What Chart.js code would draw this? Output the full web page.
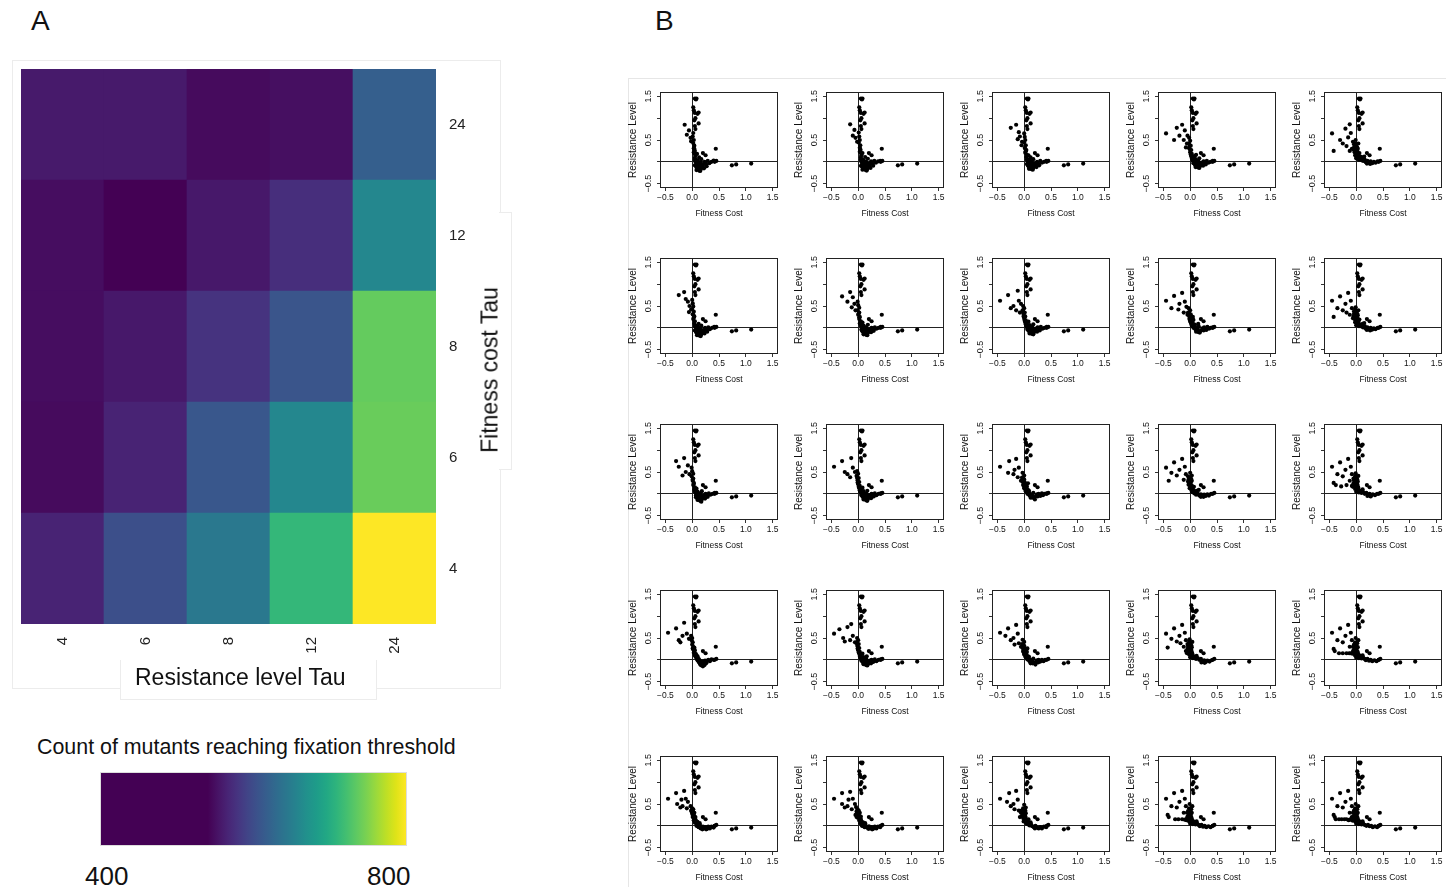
<!DOCTYPE html>
<html>
<head>
<meta charset="utf-8">
<script src="https://cdn.jsdelivr.net/npm/chart.js@4.4.1/dist/chart.umd.min.js"></script>
<style>
  body { margin:0; background:#fff; width:1446px; height:887px; overflow:hidden; position:relative;
         font-family:"Liberation Sans", Arial, sans-serif; color:#111; }
  .abs { position:absolute; }
  .panel-letter { font-size:28px; line-height:28px; }
  canvas { position:absolute; }
</style>
</head>
<body>

<!-- Panel A -->
<div class="abs panel-letter" style="left:31px;top:7px;">A</div>
<div class="abs" style="left:12px;top:60px;width:487px;height:627px;border:1px solid #ececec;background:#fff;"></div>
<div class="abs" style="left:499px;top:212px;width:12px;height:256px;border:1px solid #ececec;border-left:none;background:#fff;"></div>
<div class="abs" style="left:120px;top:660px;width:255px;height:39px;border:1px solid #ececec;border-top:none;background:#fff;"></div>
<canvas id="heat" width="500" height="623" style="left:0;top:47px;"></canvas>
<div class="abs" style="left:135px;top:664px;font-size:23px;line-height:27px;white-space:nowrap;">Resistance level Tau</div>
<div class="abs" style="left:490px;top:370px;width:0;height:0;">
  <div style="position:absolute;left:0;top:0;transform:translate(-50%,-50%) rotate(-90deg);font-size:23px;line-height:27px;white-space:nowrap;">Fitness cost Tau</div>
</div>

<!-- colour legend -->
<div class="abs" style="left:37px;top:734px;font-size:21.4px;line-height:27px;white-space:nowrap;">Count of mutants reaching fixation threshold</div>
<div id="cbar" class="abs" style="left:100px;top:772px;width:307px;height:74px;border:1px solid #ddd;box-sizing:border-box;"></div>
<div class="abs" style="left:85px;top:861px;font-size:26px;line-height:30px;">400</div>
<div class="abs" style="left:367px;top:861px;font-size:26px;line-height:30px;">800</div>

<!-- Panel B -->
<div class="abs panel-letter" style="left:655px;top:7px;">B</div>
<div class="abs" style="left:628px;top:78px;width:830px;height:820px;border-left:1px solid #e6e6e6;border-top:1px solid #e6e6e6;"></div>
<div id="grid"></div>

<script>
// ---------- Panel A: heatmap ----------
const resistanceTau = ['4', '6', '8', '12', '24'];
const fitnessTau = ['4', '6', '8', '12', '24'];
// counts per fitness-cost Tau row, ordered by resistance Tau
const countsFit4  = [565, 602, 644, 712, 800];
const countsFit6  = [547, 565, 610, 660, 740];
const countsFit8  = [549, 557, 578, 608, 738];
const countsFit12 = [549, 540, 557, 574, 660];
const countsFit24 = [558, 558, 547, 550, 618];
const countRows = [countsFit4, countsFit6, countsFit8, countsFit12, countsFit24];
const colourLow = 540, colourHigh = 800;
const legendLow = 400, legendHigh = 800;

const viridisStops = ['#440154','#471365','#482475','#463480','#414487','#3b528b','#355f8d',
  '#2f6c8e','#2a788e','#25848e','#21918c','#1e9c89','#22a884','#2fb47c','#44bf70','#5ec962',
  '#7ad151','#9bd93c','#bddf26','#dfe318','#fde725'];

function hexToRgb(h) { return [1,3,5].map(i => parseInt(h.slice(i, i + 2), 16)); }
function viridis(t) {
  t = Math.max(0, Math.min(1, t));
  const pos = t * (viridisStops.length - 1);
  const i = Math.min(Math.floor(pos), viridisStops.length - 2);
  const f = pos - i;
  const a = hexToRgb(viridisStops[i]), b = hexToRgb(viridisStops[i + 1]);
  const c = a.map((v, k) => Math.round(v + (b[k] - v) * f));
  return `rgb(${c[0]},${c[1]},${c[2]})`;
}
function countColour(v) { return viridis((v - colourLow) / (colourHigh - colourLow)); }

// legend gradient on the 400–800 range
(function () {
  const parts = [];
  const start = (colourLow - legendLow) / (legendHigh - legendLow) * 100;
  parts.push(`${viridisStops[0]} 0%`);
  viridisStops.forEach((c, i) => {
    parts.push(`${c} ${(start + (100 - start) * i / (viridisStops.length - 1)).toFixed(2)}%`);
  });
  document.getElementById('cbar').style.background = `linear-gradient(to right, ${parts.join(',')})`;
})();

new Chart(document.getElementById('heat'), {
  type: 'bar',
  data: {
    labels: resistanceTau,
    datasets: countRows.map((row, r) => ({
      label: fitnessTau[r],
      data: row.map(() => [r, r + 1]),
      backgroundColor: row.map(countColour),
      borderWidth: 0,
      grouped: false,
      barPercentage: 1,
      categoryPercentage: 1
    }))
  },
  options: {
    responsive: false, animation: false, events: [],
    layout: { padding: { left: 21, top: 9, right: 0, bottom: 0 } },
    plugins: { legend: { display: false }, tooltip: { enabled: false } },
    scales: {
      x: {
        grid: { display: false, drawTicks: false }, border: { display: false },
        ticks: { minRotation: 90, maxRotation: 90, padding: 13, color: '#222',
                 font: { size: 15, family: '"Liberation Sans", Arial' } },
        afterFit: s => { s.height = 46; }
      },
      y: {
        type: 'linear', position: 'right', min: 0, max: 5,
        grid: { display: false, drawTicks: false }, border: { display: false },
        afterBuildTicks: s => { s.ticks = fitnessTau.map((_, i) => ({ value: i + 0.5 })); },
        ticks: { padding: 13, color: '#222', autoSkip: false,
                 font: { size: 15, family: '"Liberation Sans", Arial' },
                 callback: v => fitnessTau[Math.floor(v)] },
        afterFit: s => { s.width = 64; }
      }
    }
  }
});

// ---------- Panel B: fitness cost vs resistance level scatter grid ----------
const axisTicks = [-0.5, 0, 0.5, 1, 1.5];
const yLabelledTicks = [-0.5, 0.5, 1.5];

// points that appear in every run
const sharedPoints = [[0.05,1.45],[0.08,1.45],[0.07,1.43],[0.02,1.25],[0.03,1.18],[0.05,1.12],
  [0.1,1.1],[0.12,1.13],[0.06,1.0],[0.04,0.95],[0.12,0.88],[0.05,0.82],[0.06,0.75],
  [0.44,0.3],[0.2,0.2],[0.25,0.15],[0.74,-0.08],[0.82,-0.06],[1.1,-0.04],[0.45,0.02],[0.42,0.0]];

const run11 = [[-0.14,0.85],[-0.06,0.72],[-0.1,0.62],[-0.03,0.55],[-0.02,0.47],
  [0.02,0.66],[0.01,0.58],[0.03,0.5],[0.02,0.43],[0.04,0.37],[0.03,0.31],[0.05,0.25],[0.04,0.19],[0.06,0.14],[0.05,0.09],[0.07,0.05],[0.06,0.0],[0.08,-0.04],
  [0.05,-0.08],[0.09,-0.12],[0.1,-0.17],[0.13,-0.2],[0.16,-0.17],[0.19,-0.12],[0.12,-0.07],[0.2,-0.05],[0.15,-0.01],[0.23,0.0],[0.26,-0.06],[0.29,0.02],[0.32,-0.03],
  [0.08,-0.19],[0.15,-0.21],[0.22,-0.15],[0.27,-0.1],[0.36,0.0],[0.4,0.03],[0.1,0.03],[0.17,0.06],[0.11,-0.13],[0.18,-0.08],[0.24,-0.02],[0.13,0.1],[0.09,0.18],
  [0.07,-0.1],[0.1,-0.08],[0.13,-0.1],[0.14,-0.14],[0.17,-0.11],[0.09,-0.15],[0.12,-0.17],[0.16,-0.06],[0.08,-0.02],[0.11,0.0],[0.2,-0.09],[0.05,0.04],[0.1,-0.05],[0.14,-0.04],[0.03,0.22],[0.04,0.3]];
const run12 = [[-0.15,0.86],[-0.07,0.73],[-0.1,0.6],[-0.05,0.55],[-0.02,0.46],
  [0.01,0.67],[0.02,0.58],[0.03,0.5],[0.01,0.44],[0.04,0.38],[0.03,0.32],[0.04,0.26],[0.05,0.2],[0.06,0.15],[0.05,0.1],[0.07,0.05],[0.06,0.0],[0.08,-0.05],
  [0.05,-0.09],[0.09,-0.13],[0.11,-0.17],[0.14,-0.19],[0.17,-0.16],[0.2,-0.11],[0.12,-0.06],[0.21,-0.04],[0.15,0.0],[0.24,0.01],[0.27,-0.05],[0.3,0.02],[0.33,-0.02],
  [0.08,-0.18],[0.16,-0.2],[0.23,-0.14],[0.28,-0.09],[0.37,0.01],[0.41,0.02],[0.1,0.04],[0.18,0.07],[0.12,-0.12],[0.19,-0.07],[0.25,-0.01],[0.13,0.11],[0.08,0.2],
  [0.07,-0.11],[0.1,-0.09],[0.14,-0.09],[0.15,-0.14],[0.18,-0.12],[0.1,-0.15],[0.13,-0.16],[0.17,-0.05],[0.08,-0.03],[0.12,0.01],[0.21,-0.08],[0.05,0.05],[0.11,-0.04],[0.15,-0.03],[0.03,0.23],[0.04,0.29]];
const run13 = [[-0.25,0.78],[-0.15,0.85],[-0.1,0.68],[-0.08,0.58],[-0.12,0.52],[-0.04,0.46],[-0.05,0.38],
  [0.0,0.65],[0.01,0.57],[0.02,0.5],[0.0,0.44],[0.03,0.38],[0.01,0.32],[0.04,0.27],[0.02,0.21],[0.05,0.16],[0.04,0.11],[0.06,0.06],[0.07,0.01],
  [0.05,-0.05],[0.08,-0.1],[0.11,-0.15],[0.14,-0.17],[0.17,-0.14],[0.2,-0.1],[0.12,-0.05],[0.21,-0.04],[0.14,0.0],[0.24,0.0],[0.27,-0.05],[0.3,0.02],[0.33,-0.02],
  [0.09,-0.16],[0.16,-0.18],[0.23,-0.12],[0.28,-0.08],[0.37,0.0],[0.41,0.02],[0.1,0.04],[0.17,0.06],[0.11,-0.1],[0.18,-0.06],[0.25,-0.02],[0.12,0.1],[0.08,0.15],
  [0.07,-0.08],[0.1,-0.06],[0.13,-0.08],[0.14,-0.12],[0.17,-0.09],[0.09,-0.12],[0.12,-0.14],[0.16,-0.04],[0.08,-0.01],[0.11,0.02],[0.2,-0.07],[0.05,0.05],[0.03,0.24],[0.02,0.3]];
const run14 = [[-0.45,0.65],[-0.3,0.5],[-0.25,0.78],[-0.15,0.85],[-0.1,0.72],[-0.2,0.6],[-0.12,0.5],[-0.06,0.42],[-0.08,0.33],[-0.05,0.6],
  [-0.02,0.55],[0.0,0.48],[-0.03,0.42],[0.01,0.37],[-0.02,0.31],[0.02,0.27],[0.0,0.22],[0.03,0.18],[0.02,0.13],[0.05,0.1],[0.04,0.05],[0.07,0.02],
  [0.06,-0.03],[0.09,-0.07],[0.12,-0.11],[0.15,-0.13],[0.18,-0.1],[0.21,-0.07],[0.13,-0.03],[0.22,-0.02],[0.15,0.02],[0.25,0.01],[0.28,-0.04],[0.31,0.02],[0.34,-0.02],
  [0.1,-0.12],[0.17,-0.14],[0.24,-0.09],[0.29,-0.06],[0.38,0.0],[0.42,0.02],[0.1,0.06],[0.17,0.08],[0.12,-0.06],[0.19,-0.04],[0.26,0.0],[0.08,0.13],[0.11,0.16],
  [0.06,0.01],[0.08,-0.04],[0.11,-0.08],[0.14,-0.09],[0.1,-0.02],[0.13,0.01],[0.16,-0.06],[0.03,0.09],[0.01,0.17],[0.0,0.27],[0.05,0.04],[0.17,-0.02],[-0.01,0.35]];
const run15 = [[-0.45,0.65],[-0.42,0.25],[-0.3,0.5],[-0.25,0.42],[-0.2,0.76],[-0.12,0.86],[-0.15,0.56],[-0.1,0.66],[-0.18,0.36],[-0.08,0.3],[-0.06,0.46],[-0.12,0.25],
  [-0.04,0.4],[-0.02,0.35],[0.0,0.3],[-0.05,0.28],[0.02,0.25],[-0.03,0.22],[0.01,0.19],[0.04,0.16],[-0.02,0.15],[0.03,0.12],[0.06,0.1],[0.0,0.08],[0.05,0.05],[0.08,0.07],
  [0.02,0.33],[0.04,0.42],[-0.01,0.5],[0.06,0.2],
  [0.1,0.04],[0.13,0.02],[0.16,0.05],[0.18,-0.01],[0.21,0.02],[0.24,-0.02],[0.27,0.01],[0.3,-0.03],[0.33,0.0],[0.36,-0.02],[0.4,0.01],[0.12,0.1],[0.15,0.12],[0.2,-0.04],[0.26,-0.05],
  [-0.01,0.22],[0.01,0.27],[-0.03,0.26],[0.03,0.18],[0.0,0.12],[0.02,0.15],[-0.04,0.33],[0.05,0.08],[0.07,0.05],[0.0,0.36],[-0.02,0.41],[0.03,0.3],[0.08,0.12]];

const run21 = [[-0.25,0.75],[-0.15,0.82],[-0.12,0.66],[-0.08,0.6],[-0.05,0.5],[-0.02,0.42],[-0.06,0.36],
  [0.0,0.64],[0.01,0.56],[0.02,0.49],[0.0,0.43],[0.03,0.37],[0.01,0.31],[0.04,0.26],[0.02,0.2],[0.05,0.15],[0.04,0.1],[0.06,0.05],[0.07,0.0],
  [0.05,-0.06],[0.08,-0.11],[0.11,-0.16],[0.14,-0.18],[0.17,-0.15],[0.2,-0.11],[0.12,-0.06],[0.21,-0.05],[0.14,-0.01],[0.24,0.0],[0.27,-0.06],[0.3,0.01],[0.33,-0.03],
  [0.09,-0.17],[0.16,-0.19],[0.23,-0.13],[0.28,-0.09],[0.37,0.0],[0.41,0.02],[0.1,0.03],[0.17,0.05],[0.11,-0.11],[0.18,-0.07],[0.25,-0.03],[0.12,0.09],
  [0.07,-0.09],[0.1,-0.07],[0.13,-0.09],[0.14,-0.13],[0.17,-0.1],[0.09,-0.13],[0.12,-0.15],[0.16,-0.04],[0.08,-0.02],[0.11,0.01],[0.2,-0.08],[0.05,0.04],[0.03,0.23],[0.02,0.3]];
const run22 = [[-0.3,0.72],[-0.2,0.6],[-0.15,0.82],[-0.1,0.7],[-0.12,0.47],[-0.05,0.4],[-0.07,0.55],
  [-0.01,0.6],[0.0,0.52],[0.02,0.46],[-0.01,0.4],[0.02,0.35],[0.0,0.3],[0.03,0.25],[0.02,0.2],[0.05,0.15],[0.03,0.1],[0.06,0.06],[0.08,0.01],
  [0.06,-0.04],[0.09,-0.09],[0.12,-0.14],[0.15,-0.16],[0.18,-0.12],[0.21,-0.08],[0.13,-0.04],[0.22,-0.03],[0.15,0.01],[0.25,0.0],[0.28,-0.05],[0.31,0.01],[0.34,-0.02],
  [0.1,-0.15],[0.17,-0.17],[0.24,-0.1],[0.29,-0.07],[0.38,0.0],[0.42,0.02],[0.1,0.05],[0.18,0.07],[0.12,-0.09],[0.19,-0.05],[0.26,-0.01],[0.08,0.12],
  [0.07,-0.07],[0.1,-0.05],[0.13,-0.07],[0.15,-0.11],[0.18,-0.08],[0.1,-0.11],[0.13,-0.13],[0.16,-0.03],[0.08,-0.01],[0.11,0.02],[0.21,-0.05],[0.05,0.05],[0.02,0.24],[0.01,0.33]];
const run23 = [[-0.45,0.62],[-0.3,0.75],[-0.25,0.45],[-0.2,0.5],[-0.12,0.85],[-0.1,0.62],[-0.06,0.55],[-0.15,0.4],[-0.08,0.35],
  [-0.02,0.5],[0.0,0.45],[-0.03,0.4],[0.01,0.35],[-0.01,0.3],[0.02,0.26],[0.0,0.21],[0.03,0.17],[0.02,0.12],[0.05,0.09],[0.04,0.04],[0.07,0.01],
  [0.06,-0.04],[0.09,-0.08],[0.12,-0.12],[0.15,-0.14],[0.18,-0.11],[0.21,-0.07],[0.13,-0.03],[0.22,-0.02],[0.15,0.02],[0.25,0.01],[0.28,-0.04],[0.31,0.02],[0.34,-0.02],
  [0.1,-0.13],[0.17,-0.15],[0.24,-0.09],[0.29,-0.06],[0.38,0.0],[0.42,0.02],[0.1,0.06],[0.17,0.08],[0.12,-0.07],[0.2,-0.04],[0.26,0.0],[0.08,0.14],
  [0.06,0.0],[0.08,-0.04],[0.11,-0.07],[0.14,-0.09],[0.1,-0.01],[0.13,0.0],[0.16,-0.06],[0.03,0.08],[0.01,0.16],[-0.01,0.26],[0.05,0.02],[0.17,-0.02],[-0.02,0.35]];
const run24 = [[-0.45,0.62],[-0.35,0.45],[-0.3,0.73],[-0.22,0.42],[-0.15,0.8],[-0.1,0.6],[-0.12,0.35],[-0.2,0.55],[-0.07,0.48],[-0.05,0.3],
  [-0.03,0.45],[0.0,0.4],[-0.04,0.35],[0.01,0.31],[-0.02,0.27],[0.02,0.23],[-0.01,0.19],[0.03,0.16],[0.01,0.12],[0.04,0.09],[0.03,0.05],[0.06,0.03],
  [0.08,0.0],[0.1,-0.04],[0.13,-0.08],[0.16,-0.1],[0.19,-0.07],[0.22,-0.05],[0.14,-0.02],[0.23,-0.01],[0.16,0.03],[0.26,0.01],[0.29,-0.03],[0.32,0.02],[0.35,-0.02],
  [0.11,-0.09],[0.18,-0.11],[0.25,-0.06],[0.3,-0.05],[0.38,0.0],[0.42,0.01],[0.09,0.07],[0.15,0.09],[0.06,0.18],[0.05,0.25],
  [0.0,0.15],[0.02,0.09],[0.05,0.06],[0.07,0.08],[0.04,0.13],[0.01,0.25],[-0.02,0.33],[0.1,0.0],[0.12,-0.03],[0.06,0.0],[0.08,0.04],[0.02,0.2],[-0.01,0.22]];
const run25 = [[-0.45,0.62],[-0.42,0.25],[-0.35,0.45],[-0.3,0.72],[-0.25,0.4],[-0.2,0.55],[-0.15,0.8],[-0.12,0.3],[-0.1,0.62],[-0.08,0.45],[-0.18,0.35],[-0.06,0.22],
  [-0.04,0.38],[-0.02,0.33],[0.0,0.29],[-0.05,0.27],[0.02,0.24],[-0.03,0.2],[0.01,0.17],[0.04,0.15],[-0.02,0.13],[0.03,0.1],[0.06,0.08],[0.0,0.06],[0.05,0.04],[0.08,0.06],
  [0.02,0.32],[0.04,0.4],[-0.01,0.47],[0.06,0.19],[0.1,0.03],[0.13,0.01],[0.16,0.04],[0.18,-0.02],[0.21,0.01],[0.24,-0.03],[0.27,0.0],[0.3,-0.04],[0.33,-0.01],
  [0.36,-0.03],[0.4,0.0],[0.12,0.09],[0.15,0.11],[0.2,-0.05],[0.26,-0.06],
  [-0.01,0.23],[0.01,0.28],[-0.03,0.25],[0.03,0.19],[0.0,0.12],[0.02,0.14],[-0.04,0.32],[0.05,0.09],[0.07,0.04],[0.0,0.36],[-0.02,0.41],[0.03,0.29]];

const run31 = [[-0.3,0.75],[-0.25,0.62],[-0.15,0.82],[-0.12,0.5],[-0.08,0.65],[-0.05,0.45],[-0.18,0.42],
  [-0.01,0.6],[0.0,0.52],[0.02,0.46],[-0.01,0.4],[0.02,0.35],[0.01,0.3],[0.03,0.25],[0.02,0.2],[0.05,0.15],[0.04,0.1],[0.06,0.06],[0.08,0.01],
  [0.07,-0.04],[0.1,-0.08],[0.12,-0.13],[0.15,-0.16],[0.18,-0.13],[0.21,-0.09],[0.13,-0.05],[0.22,-0.04],[0.15,0.0],[0.25,0.0],[0.28,-0.05],[0.31,0.01],[0.34,-0.02],
  [0.1,-0.14],[0.17,-0.18],[0.24,-0.11],[0.29,-0.07],[0.38,0.0],[0.42,0.02],[0.1,0.05],[0.18,0.06],[0.12,-0.09],[0.19,-0.06],[0.26,-0.02],[0.08,0.12],
  [0.07,-0.08],[0.1,-0.05],[0.13,-0.07],[0.15,-0.12],[0.18,-0.09],[0.1,-0.11],[0.14,-0.14],[0.16,-0.03],[0.08,-0.01],[0.11,0.02],[0.21,-0.06],[0.05,0.05],[0.03,0.23],[0.01,0.33]];
const run32 = [[-0.45,0.62],[-0.3,0.75],[-0.25,0.5],[-0.2,0.45],[-0.13,0.82],[-0.1,0.6],[-0.06,0.5],[-0.15,0.38],
  [-0.02,0.52],[0.0,0.46],[-0.03,0.41],[0.01,0.36],[-0.01,0.31],[0.02,0.27],[0.0,0.22],[0.03,0.18],[0.02,0.13],[0.05,0.1],[0.04,0.05],[0.07,0.02],
  [0.06,-0.03],[0.09,-0.08],[0.12,-0.12],[0.15,-0.15],[0.18,-0.12],[0.21,-0.08],[0.13,-0.04],[0.22,-0.03],[0.15,0.01],[0.25,0.0],[0.28,-0.05],[0.31,0.01],[0.34,-0.03],
  [0.1,-0.13],[0.17,-0.16],[0.24,-0.1],[0.29,-0.06],[0.38,0.0],[0.42,0.01],[0.1,0.06],[0.17,0.07],[0.12,-0.08],[0.2,-0.05],[0.26,-0.01],[0.08,0.14],
  [0.06,0.0],[0.08,-0.05],[0.11,-0.08],[0.14,-0.1],[0.1,-0.02],[0.13,0.0],[0.16,-0.07],[0.03,0.08],[0.01,0.16],[-0.01,0.26],[0.05,0.02],[0.17,-0.03],[-0.02,0.36]];
const run33 = [[-0.45,0.62],[-0.28,0.75],[-0.3,0.48],[-0.2,0.45],[-0.15,0.8],[-0.18,0.55],[-0.1,0.6],[-0.12,0.38],[-0.06,0.3],
  [-0.03,0.48],[0.0,0.42],[-0.04,0.37],[0.0,0.33],[-0.03,0.28],[0.01,0.24],[-0.02,0.2],[0.02,0.17],[0.0,0.13],[0.04,0.11],[0.03,0.06],[0.06,0.04],
  [0.08,0.0],[0.1,-0.04],[0.13,-0.07],[0.16,-0.09],[0.19,-0.08],[0.2,-0.13],[0.22,-0.05],[0.14,-0.02],[0.24,-0.01],[0.17,0.02],[0.27,0.0],[0.3,-0.03],[0.33,0.01],
  [0.35,-0.03],[0.12,-0.09],[0.25,-0.06],[0.3,-0.05],[0.38,0.0],[0.42,0.01],[0.09,0.07],[0.05,0.17],[0.07,0.24],
  [0.0,0.16],[0.02,0.1],[0.05,0.07],[0.07,0.09],[0.04,0.14],[0.01,0.26],[-0.02,0.34],[0.1,0.01],[0.12,-0.03],[0.06,0.0],[0.08,0.04],[0.02,0.21],[-0.01,0.23],[0.15,-0.05]];
const run34 = [[-0.45,0.6],[-0.4,0.3],[-0.35,0.48],[-0.3,0.72],[-0.25,0.42],[-0.2,0.55],[-0.15,0.8],[-0.12,0.32],[-0.1,0.62],[-0.08,0.45],
  [-0.04,0.4],[-0.02,0.36],[0.0,0.31],[-0.04,0.28],[0.01,0.25],[-0.03,0.21],[0.0,0.18],[0.03,0.15],[-0.01,0.13],[0.02,0.1],[0.05,0.08],[0.03,0.05],[0.06,0.03],
  [0.02,0.34],[0.03,0.42],[0.0,0.48],[0.08,0.01],[0.11,-0.02],[0.14,0.01],[0.17,-0.04],[0.2,-0.01],[0.23,-0.05],[0.26,-0.02],[0.29,-0.05],[0.32,-0.01],
  [0.35,-0.04],[0.39,0.0],[0.12,0.07],[0.16,0.09],[0.2,-0.07],[0.25,-0.07],[0.07,0.16],
  [-0.01,0.22],[0.01,0.28],[-0.02,0.25],[0.03,0.19],[0.01,0.12],[0.02,0.15],[-0.03,0.33],[0.05,0.11],[0.07,0.06],[0.0,0.38],[0.09,0.04],[0.03,0.3]];
const run35 = [[-0.45,0.62],[-0.42,0.25],[-0.38,0.2],[-0.35,0.45],[-0.3,0.72],[-0.28,0.17],[-0.25,0.4],[-0.2,0.55],[-0.15,0.8],[-0.12,0.3],[-0.1,0.62],[-0.08,0.45],[-0.18,0.2],
  [-0.05,0.35],[-0.03,0.3],[0.0,0.27],[-0.05,0.24],[0.02,0.22],[-0.03,0.18],[0.01,0.16],[0.04,0.14],[-0.02,0.11],[0.03,0.09],[0.06,0.08],[0.0,0.05],[0.05,0.03],[-0.08,0.18],
  [0.02,0.33],[0.04,0.41],[-0.01,0.47],[0.08,0.05],[0.1,0.02],[0.13,0.04],[0.16,0.0],[0.19,0.02],[0.22,-0.02],[0.25,0.0],[0.28,-0.04],[0.31,-0.01],[0.35,-0.03],
  [0.39,0.0],[0.12,0.1],[0.21,-0.05],[0.27,-0.06],
  [-0.01,0.21],[0.01,0.26],[-0.03,0.24],[0.03,0.17],[0.0,0.12],[0.02,0.13],[-0.04,0.31],[0.05,0.07],[0.07,0.05],[0.0,0.36],[-0.02,0.4],[0.03,0.28],[-0.06,0.16]];

const run41 = [[-0.45,0.62],[-0.3,0.72],[-0.25,0.45],[-0.22,0.4],[-0.15,0.85],[-0.1,0.6],[-0.18,0.55],[-0.06,0.48],
  [-0.02,0.55],[0.0,0.5],[-0.01,0.45],[0.01,0.4],[0.0,0.35],[0.02,0.3],[0.01,0.26],[0.03,0.22],[0.04,0.18],[0.05,0.14],[0.06,0.1],[0.08,0.06],[0.09,0.02],
  [0.11,-0.02],[0.13,-0.06],[0.15,-0.1],[0.18,-0.13],[0.2,-0.15],[0.17,-0.08],[0.12,0.02],[0.15,-0.03],[0.19,-0.04],[0.22,-0.08],[0.24,-0.02],[0.27,-0.05],
  [0.3,0.0],[0.33,-0.03],[0.36,0.01],[0.4,0.0],[0.07,0.13],[0.1,0.08],[0.23,-0.12],[0.26,-0.08],[0.05,0.22],
  [0.03,0.16],[0.05,0.1],[0.07,0.06],[0.09,0.04],[0.1,-0.01],[0.12,-0.04],[0.14,-0.07],[0.16,-0.12],[0.18,-0.09],[0.2,-0.1],[0.02,0.25],[0.04,0.28],[0.08,0.1],[0.13,0.0],[0.17,-0.05]];
const run42 = [[-0.45,0.6],[-0.35,0.7],[-0.28,0.5],[-0.25,0.42],[-0.2,0.75],[-0.13,0.82],[-0.1,0.55],[-0.15,0.45],[-0.06,0.4],
  [-0.02,0.5],[0.0,0.45],[-0.03,0.4],[0.01,0.36],[-0.01,0.31],[0.02,0.27],[0.0,0.22],[0.03,0.18],[0.02,0.14],[0.05,0.11],[0.04,0.06],[0.07,0.03],
  [0.06,-0.02],[0.09,-0.06],[0.12,-0.1],[0.15,-0.12],[0.18,-0.1],[0.21,-0.07],[0.13,-0.03],[0.22,-0.02],[0.15,0.02],[0.25,0.0],[0.28,-0.05],[0.31,0.01],
  [0.34,-0.03],[0.1,-0.1],[0.17,-0.13],[0.24,-0.08],[0.38,0.0],[0.42,0.01],[0.1,0.06],[0.16,0.08],[0.08,0.14],
  [0.06,0.01],[0.08,-0.03],[0.11,-0.06],[0.14,-0.08],[0.1,0.0],[0.13,0.01],[0.16,-0.05],[0.03,0.09],[0.01,0.17],[-0.01,0.26],[0.05,0.03],[0.18,-0.03],[-0.02,0.35]];
const run43 = [[-0.45,0.62],[-0.35,0.55],[-0.3,0.72],[-0.25,0.45],[-0.2,0.5],[-0.15,0.8],[-0.12,0.6],[-0.1,0.38],[-0.18,0.35],[-0.06,0.3],
  [-0.03,0.46],[0.0,0.41],[-0.04,0.36],[0.0,0.32],[-0.03,0.27],[0.01,0.23],[-0.02,0.19],[0.02,0.16],[0.0,0.12],[0.04,0.1],[0.03,0.06],[0.06,0.04],
  [0.08,0.01],[0.1,-0.03],[0.13,-0.06],[0.16,-0.08],[0.19,-0.07],[0.21,-0.11],[0.22,-0.04],[0.14,-0.01],[0.24,-0.01],[0.17,0.03],[0.27,0.0],[0.3,-0.04],
  [0.33,0.0],[0.36,-0.03],[0.12,-0.08],[0.26,-0.06],[0.39,0.0],[0.09,0.07],[0.05,0.18],[0.06,0.26],
  [0.0,0.15],[0.02,0.09],[0.05,0.06],[0.07,0.08],[0.04,0.13],[0.01,0.27],[-0.02,0.33],[0.11,0.0],[0.12,-0.04],[0.06,0.01],[0.08,0.04],[0.02,0.2],[-0.01,0.22],[0.15,-0.04]];
const run44 = [[-0.45,0.6],[-0.42,0.28],[-0.35,0.48],[-0.3,0.72],[-0.25,0.42],[-0.2,0.55],[-0.15,0.8],[-0.12,0.3],[-0.1,0.62],[-0.08,0.45],[-0.18,0.38],
  [-0.05,0.36],[-0.03,0.31],[0.0,0.28],[-0.05,0.25],[0.02,0.23],[-0.03,0.19],[0.01,0.16],[0.04,0.14],[-0.02,0.12],[0.03,0.09],[0.06,0.08],[0.0,0.06],[0.05,0.04],
  [0.02,0.33],[0.04,0.41],[-0.01,0.47],[0.08,0.05],[0.11,0.02],[0.14,0.04],[0.17,0.0],[0.2,0.02],[0.23,-0.03],[0.26,-0.01],[0.29,-0.05],[0.32,-0.02],
  [0.36,-0.04],[0.4,-0.01],[0.12,0.09],[0.21,-0.06],[0.27,-0.07],[-0.08,0.2],
  [-0.01,0.22],[0.01,0.27],[-0.03,0.25],[0.03,0.18],[0.0,0.12],[0.02,0.14],[-0.04,0.32],[0.05,0.09],[0.07,0.05],[0.0,0.36],[-0.02,0.41],[0.03,0.29],[-0.06,0.15]];
const run45 = [[-0.45,0.62],[-0.42,0.25],[-0.4,0.2],[-0.35,0.45],[-0.32,0.15],[-0.3,0.72],[-0.25,0.4],[-0.25,0.15],[-0.2,0.55],[-0.18,0.15],[-0.15,0.8],[-0.12,0.3],[-0.1,0.62],[-0.08,0.45],
  [-0.06,0.3],[-0.04,0.35],[-0.02,0.28],[0.0,0.25],[-0.05,0.22],[0.02,0.2],[-0.03,0.17],[0.01,0.14],[0.04,0.12],[-0.02,0.1],[0.03,0.08],[0.06,0.1],[-0.07,0.14],[-0.1,0.15],
  [0.0,0.05],[0.05,0.04],[0.02,0.38],[0.04,0.45],[-0.01,0.5],[0.08,0.06],[0.1,0.03],[0.13,0.05],[0.16,0.02],[0.18,-0.01],[0.21,0.02],[0.24,-0.02],[0.27,0.0],
  [0.3,-0.03],[0.34,-0.01],[0.38,-0.03],[0.42,0.0],[0.12,0.1],
  [-0.01,0.21],[0.01,0.27],[-0.03,0.24],[0.03,0.17],[0.0,0.11],[0.02,0.13],[-0.04,0.31],[0.05,0.07],[0.0,0.33],[-0.02,0.4],[0.03,0.29],[-0.06,0.18],[-0.13,0.15]];

const run51 = [[-0.45,0.62],[-0.3,0.75],[-0.28,0.5],[-0.22,0.42],[-0.18,0.45],[-0.15,0.8],[-0.12,0.62],[-0.08,0.55],[-0.2,0.6],[-0.1,0.4],
  [-0.03,0.45],[0.0,0.4],[-0.02,0.35],[0.02,0.32],[0.0,0.28],[0.03,0.24],[0.01,0.2],[0.05,0.17],[0.03,0.13],[0.07,0.11],[0.05,0.07],[0.09,0.05],[0.08,0.0],
  [0.11,0.02],[0.12,-0.03],[0.15,0.0],[0.17,-0.04],[0.2,-0.02],[0.22,-0.06],[0.25,-0.03],[0.28,-0.07],[0.3,-0.02],[0.33,-0.06],[0.36,-0.02],[0.4,-0.04],
  [0.42,0.0],[0.1,0.09],[0.14,0.06],[0.06,0.2],[0.04,0.3],[0.19,-0.08],[0.26,-0.08],
  [0.01,0.25],[0.03,0.19],[0.05,0.12],[0.07,0.07],[0.09,0.02],[0.11,-0.01],[0.13,0.03],[0.02,0.28],[-0.01,0.32],[0.04,0.22],[0.06,0.15],[0.08,0.08],[0.14,-0.03],[0.16,-0.06],[0.02,0.38]];
const run52 = [[-0.45,0.62],[-0.3,0.75],[-0.3,0.5],[-0.25,0.42],[-0.2,0.45],[-0.15,0.78],[-0.18,0.6],[-0.1,0.62],[-0.12,0.38],[-0.06,0.5],
  [-0.04,0.43],[-0.01,0.38],[-0.03,0.33],[0.01,0.3],[-0.01,0.26],[0.02,0.22],[0.0,0.18],[0.04,0.16],[0.02,0.12],[0.06,0.1],[0.04,0.06],[0.08,0.04],[0.07,0.0],
  [0.1,0.02],[0.12,-0.03],[0.14,0.0],[0.17,-0.04],[0.2,-0.01],[0.22,-0.06],[0.25,-0.03],[0.28,-0.07],[0.31,-0.02],[0.34,-0.06],[0.37,-0.02],[0.41,-0.03],
  [0.09,0.08],[0.13,0.06],[0.05,0.21],[0.03,0.3],[0.19,-0.07],[0.26,-0.08],[-0.05,0.25],
  [0.0,0.24],[0.02,0.18],[0.04,0.11],[0.06,0.06],[0.08,0.01],[0.1,-0.01],[0.12,0.03],[0.01,0.27],[-0.02,0.31],[0.03,0.21],[0.05,0.14],[0.07,0.08],[0.15,-0.03],[0.01,0.35],[-0.03,0.2]];
const run53 = [[-0.45,0.62],[-0.32,0.55],[-0.28,0.75],[-0.25,0.45],[-0.2,0.5],[-0.15,0.8],[-0.12,0.6],[-0.1,0.35],[-0.18,0.38],[-0.06,0.3],[-0.08,0.2],
  [-0.05,0.35],[-0.03,0.3],[0.0,0.27],[-0.04,0.23],[0.02,0.22],[-0.02,0.18],[0.01,0.15],[0.04,0.13],[-0.01,0.1],[0.03,0.08],[0.06,0.09],[0.05,0.05],[0.08,0.03],
  [0.02,0.35],[0.03,0.42],[0.0,0.48],[0.1,0.01],[0.13,0.03],[0.15,-0.01],[0.18,-0.03],[0.21,0.0],[0.24,-0.04],[0.27,-0.06],[0.3,-0.03],[0.33,-0.06],[0.37,-0.02],
  [0.41,-0.03],[0.12,0.08],[0.2,-0.06],[0.08,0.15],
  [-0.01,0.21],[0.01,0.26],[-0.03,0.25],[0.03,0.17],[0.0,0.12],[0.02,0.13],[-0.04,0.31],[0.05,0.07],[0.07,0.05],[0.0,0.37],[-0.02,0.4],[0.03,0.29],[0.06,0.12],[0.1,0.05]];
const run54 = [[-0.45,0.62],[-0.42,0.25],[-0.4,0.2],[-0.35,0.45],[-0.3,0.75],[-0.28,0.15],[-0.25,0.42],[-0.22,0.15],[-0.2,0.55],[-0.15,0.8],[-0.12,0.3],[-0.1,0.62],[-0.08,0.45],[-0.15,0.15],
  [-0.06,0.3],[-0.04,0.34],[-0.02,0.28],[0.0,0.24],[-0.05,0.21],[0.02,0.2],[-0.03,0.17],[0.01,0.14],[0.04,0.12],[-0.02,0.1],[0.03,0.08],[0.06,0.1],[-0.07,0.13],
  [0.0,0.05],[0.05,0.04],[0.02,0.38],[0.04,0.45],[-0.01,0.5],[0.08,0.06],[0.1,0.03],[0.13,0.05],[0.16,0.02],[0.18,-0.01],[0.21,0.02],[0.24,-0.02],[0.27,0.0],
  [0.3,-0.03],[0.34,-0.01],[0.38,-0.03],[0.42,0.0],[0.12,0.1],
  [-0.01,0.21],[0.01,0.26],[-0.03,0.24],[0.03,0.16],[0.0,0.11],[0.02,0.13],[-0.04,0.31],[0.05,0.07],[0.0,0.33],[-0.02,0.4],[0.03,0.3],[-0.06,0.17],[-0.1,0.14]];
const run55 = [[-0.45,0.62],[-0.42,0.25],[-0.4,0.2],[-0.38,0.15],[-0.35,0.45],[-0.32,0.15],[-0.3,0.75],[-0.27,0.15],[-0.25,0.42],[-0.22,0.15],[-0.2,0.55],[-0.18,0.15],
  [-0.15,0.8],[-0.14,0.13],[-0.12,0.3],[-0.1,0.62],[-0.08,0.45],
  [-0.08,0.2],[-0.06,0.3],[-0.04,0.35],[-0.02,0.28],[0.0,0.25],[-0.05,0.22],[0.02,0.2],[-0.03,0.17],[0.01,0.14],[0.04,0.12],[-0.02,0.1],[0.03,0.08],[0.06,0.1],
  [-0.07,0.12],[-0.1,0.15],[0.0,0.05],[0.05,0.04],[0.02,0.38],[0.04,0.45],[-0.01,0.5],[0.08,0.06],[0.1,0.03],[0.13,0.05],[0.16,0.02],[0.19,0.0],[0.22,0.02],
  [0.25,-0.01],[0.28,0.0],[0.31,-0.03],[0.35,-0.01],[0.39,-0.03],[0.42,0.0],[0.12,0.1],
  [-0.01,0.21],[0.01,0.26],[-0.03,0.24],[0.03,0.16],[0.0,0.11],[0.02,0.13],[-0.04,0.31],[0.05,0.07],[0.0,0.33],[-0.02,0.4],[0.03,0.3],[-0.06,0.16],[-0.12,0.14]];

const runsByRow = [
  [run11, run12, run13, run14, run15],
  [run21, run22, run23, run24, run25],
  [run31, run32, run33, run34, run35],
  [run41, run42, run43, run44, run45],
  [run51, run52, run53, run54, run55]
];

const FONT = '"Liberation Sans", Arial, sans-serif';
const fmtTick = v => (v < 0 ? '\u2212' : '') + Math.abs(v).toFixed(1);

// box round each small plot
const boxPlugin = {
  id: 'box',
  afterDraw(chart) {
    const { ctx, chartArea: a } = chart;
    ctx.save();
    ctx.strokeStyle = '#222';
    ctx.lineWidth = 1;
    ctx.strokeRect(Math.round(a.left) + 0.5, Math.round(a.top) + 0.5,
                   Math.round(a.width) - 1, Math.round(a.height) - 1);
    ctx.restore();
  }
};

function zeroLine(ctx) {
  return ctx.tick && ctx.tick.value === 0 ? '#222' : 'rgba(0,0,0,0)';
}

function drawRun(canvas, run) {
  const pts = sharedPoints.concat(run).map(([x, y]) => ({ x, y }));
  new Chart(canvas, {
    type: 'scatter',
    data: { datasets: [{ data: pts, pointRadius: 2.1, pointBackgroundColor: '#000',
                         pointBorderWidth: 0, pointHoverRadius: 0 }] },
    options: {
      responsive: false, animation: false, events: [],
      layout: { padding: { top: 7, right: 8, left: 0, bottom: 0 } },
      plugins: { legend: { display: false }, tooltip: { enabled: false } },
      scales: {
        x: {
          type: 'linear', min: -0.6, max: 1.6,
          afterBuildTicks: s => { s.ticks = axisTicks.map(v => ({ value: v })); },
          afterFit: s => { s.height = 34; },
          border: { display: false },
          grid: { color: zeroLine, tickColor: '#333', tickLength: 3, lineWidth: 1 },
          ticks: { autoSkip: false, maxRotation: 0, padding: 2, color: '#111',
                   font: { size: 8.5, family: FONT }, callback: v => fmtTick(v) },
          title: { display: true, text: 'Fitness Cost', color: '#111',
                   font: { size: 8.5, family: FONT }, padding: { top: 0, bottom: 3 } }
        },
        y: {
          type: 'linear', min: -0.6, max: 1.6,
          afterBuildTicks: s => { s.ticks = axisTicks.map(v => ({ value: v })); },
          afterFit: s => { s.width = 34; },
          border: { display: false },
          grid: { color: zeroLine, tickColor: '#333', tickLength: 3, lineWidth: 1 },
          ticks: { autoSkip: false, minRotation: 90, maxRotation: 90, crossAlign: 'center',
                   padding: 0, color: '#111', font: { size: 9, family: FONT },
                   callback: v => (yLabelledTicks.includes(v) ? fmtTick(v) : '') },
          title: { display: true, text: 'Resistance Level', color: '#111',
                   font: { size: 10, family: FONT }, padding: { top: 1, bottom: 0 } }
        }
      }
    },
    plugins: [boxPlugin]
  });
}

const grid = document.getElementById('grid');
runsByRow.forEach((row, r) => {
  row.forEach((run, c) => {
    const cv = document.createElement('canvas');
    cv.width = 160; cv.height = 137;
    cv.style.left = (626 + 166 * c) + 'px';
    cv.style.top = (85 + 166 * r) + 'px';
    grid.appendChild(cv);
    drawRun(cv, run);
  });
});
</script>
</body>
</html>
